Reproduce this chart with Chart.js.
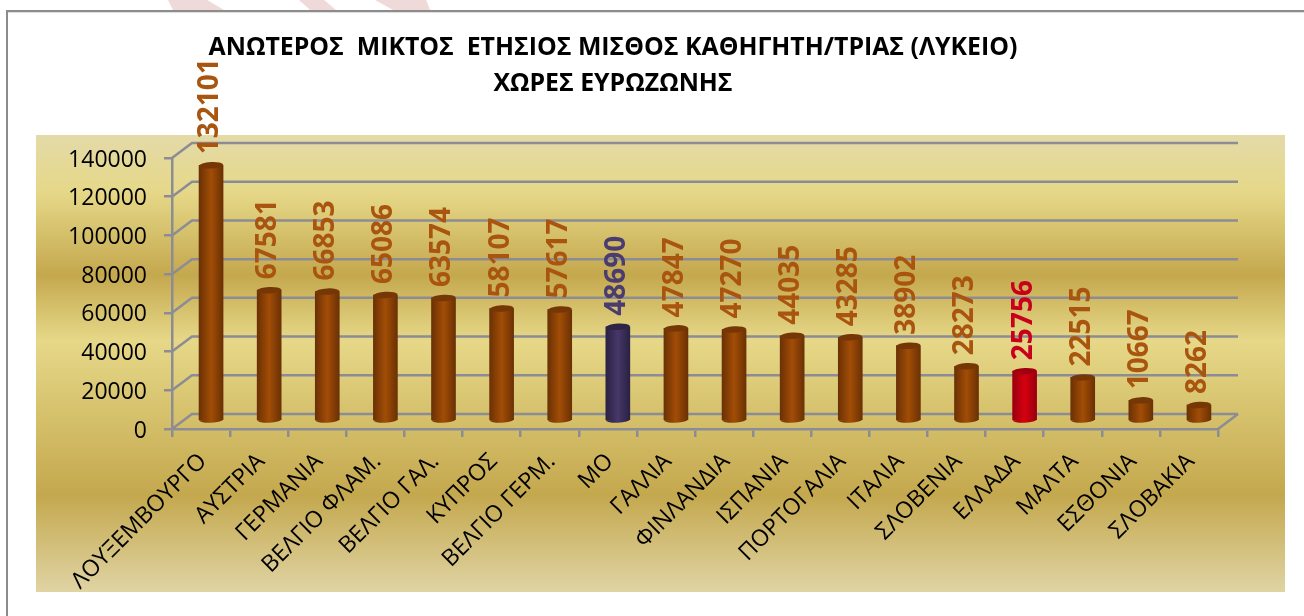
<!DOCTYPE html>
<html>
<head>
<meta charset="utf-8">
<style>
  html, body { margin: 0; padding: 0; background: #fff; overflow: hidden; }
  #wrap { position: relative; width: 1304px; height: 616px; }
  /* page border and the pink stripes behind it, as in the scanned slide */
  #top { position: absolute; left: 6px; right: 0; top: 10px; height: 2px; background: #8c8c8c; box-shadow: 0 1px 1px #ddd; }
  #left { position: absolute; left: 6px; top: 10px; bottom: 0; width: 2px; background: #8c8c8c; }
  .stripe { position: absolute; top: 0; height: 10px; background: #f0d9d9; }
  canvas { position: absolute; left: 0; top: 0; }
</style>
</head>
<body>
<div id="wrap">
  <div class="stripe" style="left:168px;width:56px;clip-path:polygon(0 0,70% 0,100% 100%,9% 100%)"></div>
  <div class="stripe" style="left:299px;width:37px;clip-path:polygon(0 0,68% 0,100% 100%,30% 100%)"></div>
  <div class="stripe" style="left:375px;width:55px;clip-path:polygon(0 0,93% 0,100% 100%,33% 100%)"></div>
  <div id="top"></div>
  <div id="left"></div>
  <canvas id="my_chart" width="1304" height="592" style="width:1304px;height:592px"></canvas>
</div>
<script src="https://cdn.jsdelivr.net/npm/chart.js@4/dist/chart.umd.min.js"></script>
<script>
// Data
const countries = ['ΛΟΥΞΕΜΒΟΥΡΓΟ', 'ΑΥΣΤΡΙΑ', 'ΓΕΡΜΑΝΙΑ', 'ΒΕΛΓΙΟ ΦΛΑΜ.', 'ΒΕΛΓΙΟ ΓΑΛ.', 'ΚΥΠΡΟΣ', 'ΒΕΛΓΙΟ ΓΕΡΜ.', 'ΜΟ', 'ΓΑΛΛΙΑ',
  'ΦΙΝΛΑΝΔΙΑ', 'ΙΣΠΑΝΙΑ', 'ΠΟΡΤΟΓΑΛΙΑ', 'ΙΤΑΛΙΑ', 'ΣΛΟΒΕΝΙΑ', 'ΕΛΛΑΔΑ', 'ΜΑΛΤΑ', 'ΕΣΘΟΝΙΑ', 'ΣΛΟΒΑΚΙΑ'];
const salaries = [132101, 67581, 66853, 65086, 63574, 58107, 57617, 48690, 47847, 47270, 44035, 43285, 38902, 28273, 25756, 22515, 10667, 8262];
const titleLines = ['ΑΝΩΤΕΡΟΣ  ΜΙΚΤΟΣ  ΕΤΗΣΙΟΣ ΜΙΣΘΟΣ ΚΑΘΗΓΗΤΗ/ΤΡΙΑΣ (ΛΥΚΕΙΟ)', 'ΧΩΡΕΣ ΕΥΡΩΖΩΝΗΣ'];

const FONT = '"Open Sans", sans-serif';
const AXIS_GREY = '#8c8c94';
const depthX = 20, depthY = 15;   // back wall offset of the fake 3D box
const barX = 10, barY = -8;       // bars stand in the middle of the floor

// edge / middle / cap colours
function paletteFor(name) {
  if (name === 'ΜΟ') return { edge: '#2a2142', mid: '#463869', cap: '#2d2446', text: '#4a3c70' };
  if (name === 'ΕΛΛΑΔΑ') return { edge: '#98000f', mid: '#d6000f', cap: '#a0000e', text: '#c9001b' };
  return { edge: '#6b3104', mid: '#a24d06', cap: '#763706', text: '#a9540f' };
}

function barFill(context) {
  if (context.type !== 'data') return '#a24d06';
  const x = context.chart.scales.x.getPixelForValue(context.dataIndex);
  const p = paletteFor(countries[context.dataIndex]);
  if (!isFinite(x)) return p.mid; // scales not laid out yet
  const g = context.chart.ctx.createLinearGradient(x - 12, 0, x + 12, 0);
  g.addColorStop(0, p.edge);
  g.addColorStop(0.5, p.mid);
  g.addColorStop(1, p.edge);
  return g;
}

// Gold panel, title, back wall, cylinder ends and value labels
const slidePlugin = {
  id: 'slide',
  beforeDraw(chart) {
    const ctx = chart.ctx;
    const bg = ctx.createLinearGradient(0, 135, 0, 592);
    bg.addColorStop(0, '#e4daa8');
    bg.addColorStop(0.125, '#e6d888');
    bg.addColorStop(0.306, '#c4a84e');
    bg.addColorStop(0.45, '#e6d888');
    bg.addColorStop(0.787, '#c4a84e');
    bg.addColorStop(1, '#e0d4a4');
    ctx.fillStyle = bg;
    ctx.fillRect(36, 135, 1249, 457);

    ctx.save();
    ctx.fillStyle = '#000';
    ctx.font = 'bold 24.85px ' + FONT;
    ctx.textAlign = 'center';
    ctx.textBaseline = 'middle';
    ctx.fillText(titleLines[0], 613, 48);
    ctx.fillText(titleLines[1], 613, 84);
    ctx.restore();
  },
  beforeDatasetsDraw(chart) {
    const ctx = chart.ctx, area = chart.chartArea, y = chart.scales.y;
    ctx.save();
    ctx.strokeStyle = AXIS_GREY;
    ctx.lineWidth = 2.5;
    y.ticks.forEach(t => {
      const py = y.getPixelForValue(t.value);
      ctx.beginPath();
      ctx.moveTo(area.left, py);
      ctx.lineTo(area.left + depthX, py - depthY);
      ctx.lineTo(area.right + depthX, py - depthY);
      ctx.stroke();
    });
    ctx.beginPath();
    ctx.moveTo(area.right, area.bottom);
    ctx.lineTo(area.right + depthX, area.bottom - depthY);
    ctx.stroke();
    ctx.restore();

    ctx.save();
    ctx.translate(barX, barY);
  },
  afterDatasetsDraw(chart) {
    const ctx = chart.ctx;
    const bars = chart.getDatasetMeta(0).data;
    bars.forEach((bar, i) => {
      const p = paletteFor(countries[i]);
      // bottom of the cylinder, same shading as the body
      ctx.fillStyle = bar.options.backgroundColor;
      ctx.beginPath();
      ctx.ellipse(bar.x, bar.base, 12, 3, -0.05, 0, Math.PI);
      ctx.fill();
      // top of the cylinder
      ctx.fillStyle = p.cap;
      ctx.beginPath();
      ctx.ellipse(bar.x, bar.y, 12, 3.2, -0.05, 0, Math.PI * 2);
      ctx.fill();
    });
    ctx.restore();

    ctx.save();
    ctx.font = 'bold 28px ' + FONT;
    ctx.textAlign = 'left';
    ctx.textBaseline = 'middle';
    bars.forEach((bar, i) => {
      ctx.save();
      ctx.translate(bar.x + barX - 1, bar.y + barY - 11);
      ctx.rotate(-Math.PI / 2);
      ctx.fillStyle = paletteFor(countries[i]).text;
      ctx.fillText(String(salaries[i]), 0, 0);
      ctx.restore();
    });
    ctx.restore();
  }
};

const config = {
  type: 'bar',
  data: {
    labels: countries,
    datasets: [{ data: salaries, backgroundColor: barFill, borderWidth: 0, barThickness: 24 }]
  },
  options: {
    responsive: false,
    animation: false,
    layout: { padding: { top: 158, right: 86, left: 0, bottom: 0 } },
    plugins: { legend: { display: false }, title: { display: false }, tooltip: { enabled: false } },
    scales: {
      x: {
        afterFit(scale) { scale.height = 163; scale.paddingLeft = 0; scale.paddingRight = 0; },
        grid: { offset: true, drawOnChartArea: false, color: AXIS_GREY, lineWidth: 2.5, tickLength: 8 },
        border: { color: AXIS_GREY, width: 2.5 },
        ticks: { autoSkip: false, minRotation: 45, maxRotation: 45, padding: 11, labelOffset: 2, color: '#000', font: { family: FONT, size: 23 } }
      },
      y: {
        min: 0,
        max: 140000,
        afterFit(scale) { scale.width = 172; scale.paddingTop = 0; scale.paddingBottom = 0; },
        grid: { drawOnChartArea: false, color: AXIS_GREY, lineWidth: 2.5, tickLength: 8 },
        border: { color: AXIS_GREY, width: 2.5 },
        ticks: { stepSize: 20000, padding: 17, labelOffset: 2, color: '#000', font: { family: FONT, size: 23 }, callback: v => String(v) }
      }
    }
  },
  plugins: [slidePlugin]
};

const myChart = new Chart(document.getElementById('my_chart').getContext('2d'), config);
</script>
</body>
</html>
